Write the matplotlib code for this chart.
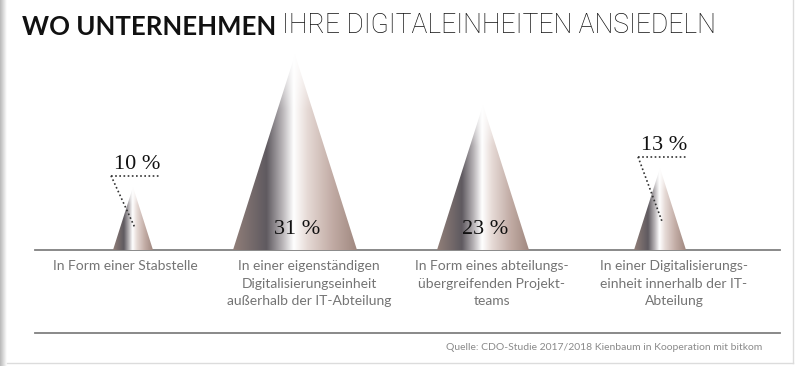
import numpy as np
import matplotlib.pyplot as plt
from matplotlib.patches import Polygon
from matplotlib.colors import LinearSegmentedColormap

# data
categories = [
    "In Form einer Stabstelle",
    "In einer eigenständigen\nDigitalisierungseinheit\naußerhalb der IT-Abteilung",
    "In Form eines abteilungs-\nübergreifenden Projekt-\nteams",
    "In einer Digitalisierungs-\neinheit innerhalb der IT-\nAbteilung",
]
values = [10, 31, 23, 13]
value_labels = ["10 %", "31 %", "23 %", "13 %"]

title_bold = "WO UNTERNEHMEN"
title_light = "IHRE DIGITALEINHEITEN ANSIEDELN"
source = "Quelle: CDO-Studie 2017/2018 Kienbaum in Kooperation mit bitkom"

# layout (pixels)
W, H = 800, 366
base_px, top_px = 250, 40
px_per_pct = 6.3
half_w_per_pct = 2.0
cone_x = [133, 295, 483, 660]
label_x = [125, 309, 492, 674]

fig = plt.figure(figsize=(8, 3.66), dpi=100)
fig.patch.set_facecolor("white")

# background / frame axes in pixel coordinates
bg = fig.add_axes([0, 0, 1, 1])
bg.set_xlim(0, W)
bg.set_ylim(H, 0)
bg.axis("off")

# left shadow + right/bottom frame
shade = np.linspace(0.72, 1.0, 32)[None, :]
bg.imshow(np.repeat(shade[..., None], 3, axis=2).clip(0, 1), extent=[0, 7, H, 0],
          aspect="auto", zorder=0)
bg.plot([793, 793], [0, 363], color="#dcdcdc", lw=1)
bg.plot([7, 793], [363, 363], color="#dcdcdc", lw=1)

# chart axes: y in percent
ax = fig.add_axes([0, (H - base_px) / H, 1, (base_px - top_px) / H])
ax.set_autoscale_on(False)
ax.set_xlim(0, W)
ax.set_ylim(0, (base_px - top_px) / px_per_pct)
ax.axis("off")

cone_cmap = LinearSegmentedColormap.from_list("cone", [
    (0.0, "#917f79"), (0.27, "#5f5a60"), (0.40, "#b9b5b8"), (0.49, "#ffffff"),
    (0.60, "#e6dad6"), (0.80, "#c2aca5"), (1.0, "#a08880")])

grad = np.tile(np.linspace(0, 1, 256), (128, 1))
rows = np.linspace(0, 1, 128)[:, None]
fade = np.clip((rows - 0.72) / 0.28, 0, 1)[..., None] * 0.75

for cx, v in zip(cone_x, values):
    hw = half_w_per_pct * v
    tri = Polygon([(cx - hw, 0), (cx + hw, 0), (cx, v)], closed=True,
                  fc="none", ec="none")
    ax.add_patch(tri)
    rgb = cone_cmap(grad)[..., :3]
    rgb = rgb * (1 - fade) + fade
    im = ax.imshow(rgb, extent=[cx - hw, cx + hw, 0, v], origin="lower",
                   aspect="auto", interpolation="bilinear", zorder=2)
    im.set_clip_path(tri)

# percent labels
for i, (cx, v, lab) in enumerate(zip(cone_x, values, value_labels)):
    if v > 20:
        ax.text(cx + 2, 3.2, lab, ha="center", va="center", fontsize=16,
                family="Liberation Serif", color="#111111", zorder=3)
    else:
        ly = v + 3.6
        ax.text(cx + 4, ly, lab, ha="center", va="center", fontsize=16,
                family="Liberation Serif", color="#111111", zorder=3)
        hy = v + 1.8
        ax.plot([cx - 22, cx + 28], [hy, hy], color="#333333", lw=1.2,
                linestyle=(0, (1, 1.5)), zorder=4)
        ax.plot([cx - 22, cx + 2], [hy, v * 0.35], color="#333333", lw=1.2,
                linestyle=(0, (1, 1.5)), zorder=4)

# baseline and bottom rule
bg.plot([35, 780], [base_px, base_px], color="#808080", lw=1.3, zorder=3)
bg.plot([35, 780], [333, 333], color="#808080", lw=1.3, zorder=3)

# category labels
for lx, cat in zip(label_x, categories):
    bg.text(lx, 260, cat, ha="center", va="top", fontsize=10, family="Lato",
            color="#747474", linespacing=1.55)

# title
t1 = fig.text(22 / W, (H - 35) / H, title_bold, fontsize=18.5, family="Lato",
              fontweight="bold", color="#111111", va="baseline")
bg.annotate(title_light, xy=(1, 0), xycoords=t1, xytext=(4, 0),
            textcoords="offset points", va="bottom", ha="left", fontsize=19.1,
            family="Roboto", fontweight="light", color="#111111")

# source
bg.text(762, 347, source, ha="right", va="center", fontsize=7.5,
        family="Lato", color="#8a8a8a")

fig.savefig("out.png", dpi=100, facecolor="white")
